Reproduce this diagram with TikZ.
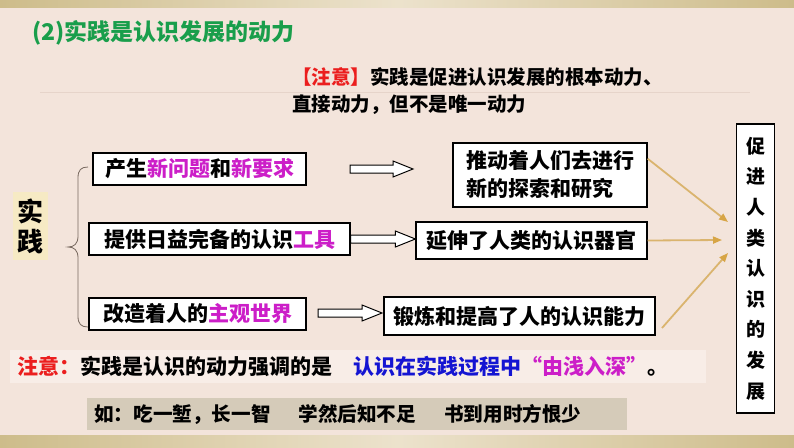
\documentclass[tikz,border=0pt]{standalone}
\usepackage{fontspec}
\setmainfont{Noto Sans CJK SC}
\usetikzlibrary{arrows.meta,calc}
\definecolor{bgc}{RGB}{243,228,219}
\definecolor{barc}{RGB}{205,188,138}
\definecolor{barlight}{RGB}{236,226,204}
\definecolor{mag}{RGB}{204,30,200}
\definecolor{blu}{RGB}{20,20,210}
\definecolor{rd}{RGB}{235,30,30}
\definecolor{titlegreen}{RGB}{25,158,75}
\definecolor{goldc}{RGB}{218,180,110}
\definecolor{goldtip}{RGB}{215,165,70}
\definecolor{yellowbg}{RGB}{246,234,196}
\definecolor{stripc}{RGB}{248,237,231}
\definecolor{exc}{RGB}{213,203,185}
\definecolor{faintc}{RGB}{230,212,202}
\definecolor{bracec}{RGB}{120,105,95}
\tikzset{
  box/.style={draw=black, line width=1.3pt, fill=white, inner sep=0pt,
    font=\bfseries\fontsize{21}{28}\selectfont},
  hollow/.style={draw=black, line width=1pt, fill=white},
  goldarrow/.style={draw=goldc, line width=1.8pt,
    -{Triangle[length=9pt,width=7pt,color=goldtip]}},
  plain/.style={inner sep=0pt, anchor=west},
}
\newcommand{\harrow}[2]{%
  \draw[hollow] let \p1=(#1), \p2=(#2) in
    (\x1,\y1+4pt) -- (\x2-20pt,\y1+4pt) -- (\x2-20pt,\y1+8pt) -- (\x2,\y1)
    -- (\x2-20pt,\y1-8pt) -- (\x2-20pt,\y1-4pt) -- (\x1,\y1-4pt) -- cycle;}
\begin{document}
\begin{tikzpicture}[x=1pt,y=-1pt]
\useasboundingbox (0,0) rectangle (794,447);
\fill[bgc] (0,0) rectangle (794,447);
\shade[left color=barc, right color=barc, middle color=barlight] (0,0) rectangle (794,7);
\shade[left color=barc, right color=barc, middle color=barlight] (0,435) rectangle (794,447);

% title
\node[plain, text=titlegreen, font=\bfseries\fontsize{23}{28}\selectfont] (title) at (32,33) {(2)实践是认识发展的动力};

% note at top
\draw[faintc, line width=0.8pt] (40,92) -- (750,92);
\node[plain, font=\bfseries\fontsize{19.5}{28}\selectfont] (note1) at (292,77) {\textcolor{rd}{【注意】}实践是促进认识发展的根本动力、};
\node[plain, font=\bfseries\fontsize{19.5}{28}\selectfont] (note2) at (292,105) {直接动力，但不是唯一动力};

% practice
\node[fill=yellowbg, minimum width=35, minimum height=68, inner sep=0pt, align=center,
  font=\bfseries\fontsize{26}{30}\selectfont] (sj) at (30.5,226) {实\\践};
\draw[bracec, line width=0.8pt] (88,167) .. controls (81,167) and (78,170) .. (78,178) -- (78,236)
  .. controls (78,244) and (74,247) .. (68,247) .. controls (74,247) and (78,250) .. (78,258)
  -- (78,316) .. controls (78,324) and (81,327) .. (88,327);

% left boxes
\node[box, minimum width=213, minimum height=32] (b1) at (199.5,169) {产生\textcolor{mag}{新问题}和\textcolor{mag}{新要求}};
\node[box, minimum width=261, minimum height=32] (b2) at (219.5,239) {提供日益完备的认识\textcolor{mag}{工具}};
\node[box, minimum width=217, minimum height=32] (b3) at (197.5,314) {改造着人的\textcolor{mag}{主观世界}\hspace{12pt}};

% right boxes
\node[box, minimum width=194, minimum height=64, align=left] (r1) at (550,175) {推动着人们去进行\\新的探索和研究};
\node[box, minimum width=231, minimum height=37] (r2) at (531.5,240.5) {延伸了人类的认识器官};
\node[box, minimum width=271, minimum height=38] (r3) at (519.5,316) {锻炼和提高了人的认识能力};
\node[box, minimum width=38, minimum height=289, align=center,
  font=\bfseries\fontsize{19}{30.6}\selectfont] (v) at (755.5,268.5) {促\\进\\人\\类\\认\\识\\的\\发\\展};

% hollow arrows
\coordinate (a1s) at (350,169);
\coordinate (a1e) at (413,169);
\harrow{a1s}{a1e}
\harrow{b2.east}{r2.west}
\coordinate (a3s) at (318,313);
\coordinate (a3e) at (382,313);
\harrow{a3s}{a3e}

% gold arrows
\coordinate (g1s) at ($(r1.north east)!0.25!(r1.south east)$);
\coordinate (g1e) at (728,222);
\coordinate (g2e) at (722,240);
\coordinate (g3s) at (662,328);
\coordinate (g3e) at (728,253);
\draw[goldarrow] (g1s) -- (g1e);
\draw[goldarrow] (r2.east) -- (g2e);
\draw[goldarrow] (g3s) -- (g3e);

% bottom note
\fill[stripc] (10,350) rectangle (706,383);
\node[plain, font=\bfseries\fontsize{21}{28}\selectfont] (note3) at (17,366)
  {\textcolor{rd}{注意：}实践是认识的动力强调的是\hspace{21pt}\textcolor{blu}{认识在实践过程中}\textcolor{mag}{“由浅入深”}。};

% examples
\node[fill=exc, anchor=west, minimum width=540, minimum height=32, inner xsep=7pt, inner ysep=0pt,
  text width=526, align=left, font=\bfseries\fontsize{19.6}{28}\selectfont] (ex) at (87,414)
  {如：吃一堑，长一智\hspace{28pt}学然后知不足\hspace{28pt}书到用时方恨少};
\end{tikzpicture}
\end{document}
